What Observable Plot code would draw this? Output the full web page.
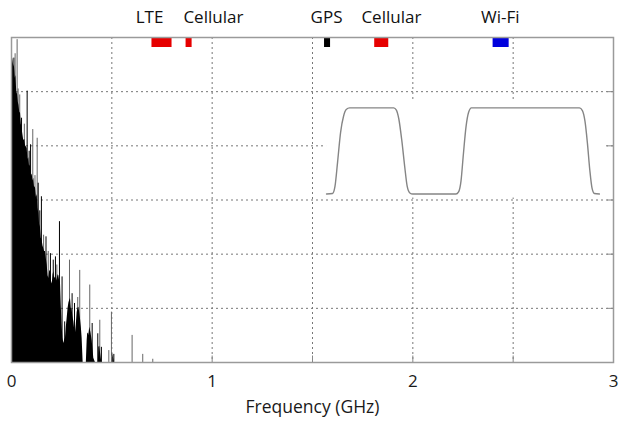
<!DOCTYPE html>
<html>
<head>
<meta charset="utf-8">
<script src="https://cdn.jsdelivr.net/npm/d3@7"></script>
<script src="https://cdn.jsdelivr.net/npm/@observablehq/plot@0.6"></script>
<style>
  html, body { margin: 0; padding: 0; background: #fff; }
  #chart svg { display: block; }
</style>
</head>
<body>
<div id="chart"></div>
<script>
// ---- data ----
const xTickLabels = [0, 1, 2, 3];
const xGrid = [0.5, 1, 1.5, 2, 2.5];
const yGrid = [1, 2, 3, 4, 5];

// band markers (GHz)
const bandName  = ["LTE", "Cellular", "GPS", "Cellular", "Wi-Fi"];
const bandStart = [0.70, 0.87, 1.56, 1.81, 2.40];
const bandEnd   = [0.80, 0.90, 1.59, 1.88, 2.48];
const bandLabelX = [0.688, 1.006, 1.570, 1.893, 2.436];
const bandColor = ["#e60000", "#e60000", "#000000", "#e60000", "#0000dd"];

// filter response curve
const filterFreq = [1.570, 1.600, 1.612, 1.625, 1.640, 1.655, 1.668, 1.685,
  1.905, 1.918, 1.930, 1.945, 1.960, 1.972, 1.985, 2.000,
  2.215, 2.228, 2.240, 2.252, 2.265, 2.278, 2.292,
  2.830, 2.845, 2.858, 2.870, 2.882, 2.893, 2.905, 2.930];
const filterAmp = [3.11, 3.12, 3.25, 3.70, 4.25, 4.55, 4.67, 4.70,
  4.70, 4.66, 4.50, 4.10, 3.60, 3.25, 3.13, 3.11,
  3.11, 3.15, 3.35, 3.85, 4.35, 4.62, 4.70,
  4.70, 4.65, 4.45, 4.05, 3.55, 3.22, 3.12, 3.11];

// noise body (upper envelope)
const noiseFreq = [0.002, 0.006, 0.010, 0.015, 0.019, 0.022, 0.026, 0.030, 0.034, 0.037,
  0.041, 0.045, 0.049, 0.053, 0.057, 0.061, 0.066, 0.070, 0.074, 0.078,
  0.082, 0.086, 0.090, 0.095, 0.099, 0.103, 0.107, 0.111, 0.115, 0.119,
  0.124, 0.128, 0.132, 0.136, 0.140, 0.144, 0.148, 0.153, 0.157, 0.161,
  0.165, 0.169, 0.174, 0.178, 0.182, 0.186, 0.190, 0.194, 0.199, 0.203,
  0.207, 0.211, 0.215, 0.219, 0.224, 0.228, 0.232, 0.236, 0.240, 0.244,
  0.248, 0.252, 0.256, 0.261, 0.265, 0.269, 0.273, 0.277, 0.282, 0.286,
  0.290, 0.294, 0.298, 0.302, 0.306, 0.311, 0.315, 0.319, 0.323, 0.327,
  0.331, 0.336, 0.340, 0.344, 0.348, 0.352, 0.357, 0.373, 0.377, 0.380,
  0.385, 0.390, 0.396, 0.402, 0.406, 0.410, 0.418, 0.433, 0.435, 0.440,
  0.443, 0.450, 0.500, 0.503, 0.513];
const noiseAmp = [5.55, 5.62, 5.50, 5.45, 5.25, 5.30, 5.00, 4.95, 4.80, 4.75,
  4.62, 4.60, 4.40, 4.30, 4.20, 4.10, 4.12, 4.00, 3.98, 3.95,
  3.75, 3.78, 3.62, 3.65, 3.45, 3.48, 3.35, 3.40, 3.22, 3.25,
  3.05, 3.10, 2.85, 2.75, 2.55, 2.50, 2.30, 2.25, 2.15, 2.10,
  2.05, 2.05, 1.90, 1.80, 1.60, 1.55, 1.68, 1.70, 1.50, 1.45,
  1.62, 1.68, 1.55, 1.58, 1.50, 1.55, 1.62, 1.60, 1.50, 1.48,
  1.05, 0.70, 0.45, 0.35, 0.42, 0.45, 0.65, 0.80, 1.00, 1.10,
  1.15, 1.18, 1.00, 0.98, 0.85, 0.75, 0.60, 0.55, 0.70, 0.92,
  1.00, 1.02, 0.92, 0.80, 0.65, 0.45, 0, 0, 0.40, 0.55,
  0.50, 0.65, 0.55, 0.40, 0.25, 0.08, 0, 0, 0.28, 0.30,
  0.20, 0, 0, 0.18, 0];

// noise spikes
const spikeFreq = [0.028, 0.012, 0.041, 0.050, 0.078, 0.095, 0.106, 0.128, 0.133, 0.149,
  0.172, 0.194, 0.208, 0.219, 0.239, 0.252, 0.289, 0.302, 0.314, 0.340,
  0.380, 0.390, 0.402, 0.430, 0.440, 0.448, 0.485, 0.498, 0.510, 0.601, 0.654, 0.704,
  0.018, 0.033, 0.064, 0.088, 0.117, 0.141, 0.160, 0.183, 0.226, 0.265, 0.330];
const spikeAmp = [5.96, 5.62, 4.94, 4.51, 5.01, 4.02, 4.30, 4.14, 3.31, 3.06,
  2.32, 2.01, 1.89, 1.95, 2.60, 1.58, 1.89, 1.27, 1.09, 1.70,
  0.53, 1.43, 0.72, 0.53, 0.78, 0.28, 0.22, 0.93, 0.15, 0.50, 0.15, 0.06,
  5.70, 5.05, 4.40, 3.90, 3.45, 2.80, 2.35, 2.05, 1.80, 0.75, 1.20];
const spikeTone = ["g", "k", "g", "k", "k", "k", "g", "g", "k", "k",
  "k", "k", "k", "k", "k", "k", "g", "k", "k", "g",
  "k", "g", "k", "k", "g", "k", "g", "g", "k", "g", "g", "g",
  "g", "g", "g", "k", "g", "k", "g", "g", "g", "k", "g"];

// ---- tables ----
const bands = bandName.map((n, i) => ({name: n, x1: bandStart[i], x2: bandEnd[i], lx: bandLabelX[i], color: bandColor[i]}));
const filter = filterFreq.map((f, i) => ({f, a: filterAmp[i]}));
const noise = noiseFreq.map((f, i) => ({f, a: noiseAmp[i]}));
const spikes = spikeFreq.map((f, i) => ({f, a: spikeAmp[i], c: spikeTone[i] === "g" ? "#666" : "#000"}));
const inset = [{x1: d3.min(filterFreq), x2: d3.max(filterFreq), y1: d3.min(filterAmp), y2: d3.max(filterAmp)}];

const font = "'Open Sans', 'DejaVu Sans', sans-serif";

const chart = Plot.plot({
  width: 625,
  height: 427,
  marginLeft: 11,
  marginRight: 12,
  marginTop: 37,
  marginBottom: 65,
  style: {fontFamily: font, background: "#fff", color: "#1a1a1a"},
  x: {domain: [0, 3]},
  y: {domain: [0, 6], axis: null},
  marks: [
    Plot.ruleX(xGrid, {stroke: "#777", strokeDasharray: "2,3", strokeWidth: 1}),
    Plot.ruleY(yGrid, {stroke: "#777", strokeDasharray: "2,3", strokeWidth: 1}),
    Plot.rect(inset, {x1: "x1", x2: "x2", y1: "y1", y2: "y2", fill: "#fff", insetLeft: 0, insetRight: -6, insetTop: -8, insetBottom: -4}),
    Plot.line(filter, {x: "f", y: "a", stroke: "#858585", strokeWidth: 1.4, curve: "monotone-x"}),
    Plot.ruleX(spikes, {x: "f", y1: 0, y2: "a", stroke: "c", strokeWidth: 1}),
    Plot.areaY(noise, {x: "f", y: "a", fill: "#000"}),
    Plot.rect(bands, {x1: "x1", x2: "x2", fill: "color", insetTop: 1, insetBottom: 315}),
    Plot.frame({stroke: "#9a9a9a", strokeWidth: 1.5}),
    Plot.ruleX(xGrid, {y1: 0, y2: 0.12, stroke: "#888"}),
    Plot.ruleY(yGrid, {x1: 2.97, x2: 3, stroke: "#888"}),
    Plot.axisX(xTickLabels, {tickSize: 0, tickPadding: 12, fontSize: 17, label: null, tickFormat: d => String(d), fill: "#1a1a1a"}),
    Plot.text(["Frequency (GHz)"], {frameAnchor: "bottom", lineAnchor: "middle", dy: 45, text: d => d, fontSize: 17.5, fill: "#1a1a1a"}),
    Plot.text(bands, {x: "lx", frameAnchor: "top", lineAnchor: "middle", dy: -20, text: "name", fontSize: 17, fill: "#111"})
  ]
});
document.getElementById("chart").appendChild(chart);
</script>
</body>
</html>
